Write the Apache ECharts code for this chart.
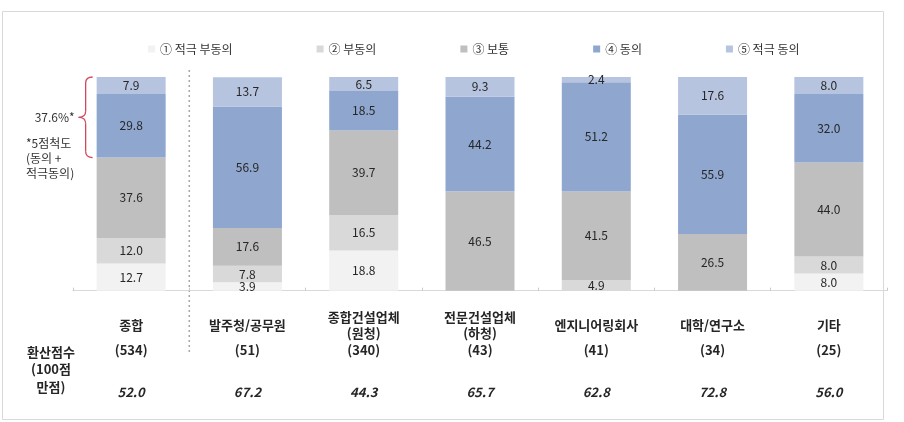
<!DOCTYPE html>
<html>
<head>
<meta charset="utf-8">
<script src="https://cdn.jsdelivr.net/npm/echarts@6/dist/echarts.min.js"></script>
<style>html,body{margin:0;padding:0;background:#fff}#c{width:904px;height:422px}</style>
</head>
<body>
<div id="c"></div>
<script>
const categories = ['종합', '발주청/공무원', '종합건설업체\n(원청)', '전문건설업체\n(하청)', '엔지니어링회사', '대학/연구소', '기타'];
const counts = ['(534)', '(51)', '(340)', '(43)', '(41)', '(34)', '(25)'];
const scores = ['52.0', '67.2', '44.3', '65.7', '62.8', '72.8', '56.0'];
const seriesNames = ['① 적극 부동의', '② 부동의', '③ 보통', '④ 동의', '⑤ 적극 동의'];
const s1 = [12.7, 3.9, 18.8, 0, 0, 0, 8.0];
const s2 = [12.0, 7.8, 16.5, 0, 4.9, 0, 8.0];
const s3 = [37.6, 17.6, 39.7, 46.5, 41.5, 26.5, 44.0];
const s4 = [29.8, 56.9, 18.5, 44.2, 51.2, 55.9, 32.0];
const s5 = [7.9, 13.7, 6.5, 9.3, 2.4, 17.6, 8.0];
const agreeNote = '37.6%*';
const scaleNote = '*5점척도\n(동의 +\n적극동의)';
const scoreTitle = '환산점수\n(100점\n만점)';

const colors = ['#f2f2f2', '#d9d9d9', '#bfbfbf', '#8fa6cf', '#b7c4df'];
const FONT = '"Noto Sans CJK KR", "Noto Sans", sans-serif';
const BAR_W = 69;

const chart = echarts.init(document.getElementById('c'));
const allData = [s1, s2, s3, s4, s5];

const series = allData.map((d, i) => ({
  name: seriesNames[i],
  type: 'bar',
  stack: 'total',
  barWidth: BAR_W,
  data: d,
  itemStyle: { color: colors[i] },
  label: {
    show: true,
    position: 'inside',
    fontFamily: FONT,
    fontSize: 12,
    color: '#262626',
    formatter: p => (p.value ? p.value.toFixed(1) : '')
  },
  emphasis: { disabled: true }
}));

const baseX = {
  type: 'category',
  data: categories,
  gridIndex: 0,
  axisLine: { show: false },
  axisTick: { show: false },
  splitLine: { show: false }
};

chart.setOption({
  animation: false,
  textStyle: { fontFamily: FONT },
  legend: {
    data: seriesNames,
    left: 143,
    top: 38,
    itemWidth: 7,
    itemHeight: 7,
    itemGap: 84,
    icon: 'rect',
    textStyle: { fontFamily: FONT, fontSize: 12, color: '#333' }
  },
  grid: { left: 73, right: 17, top: 77, bottom: 131.3 },
  xAxis: [
    Object.assign({}, baseX, {
      axisLine: { show: true, lineStyle: { color: '#d9d9d9', width: 1 } },
      axisTick: { show: true, inside: true, length: 3, lineStyle: { color: '#c8c8c8' } },
      axisLabel: {
        margin: 34, verticalAlign: 'middle', lineHeight: 16, interval: 0,
        fontFamily: FONT, fontSize: 13, fontWeight: 'bold', color: '#262626'
      }
    }),
    Object.assign({}, baseX, {
      position: 'bottom',
      axisLabel: {
        margin: 59, verticalAlign: 'middle', interval: 0,
        fontFamily: FONT, fontSize: 13, fontWeight: 'bold', color: '#262626',
        formatter: (v, i) => counts[i]
      }
    }),
    Object.assign({}, baseX, {
      position: 'bottom',
      axisLabel: {
        margin: 101, verticalAlign: 'middle', interval: 0,
        fontFamily: FONT, fontSize: 13, fontWeight: 'bold', fontStyle: 'italic', color: '#262626',
        formatter: (v, i) => scores[i]
      }
    })
  ],
  yAxis: { type: 'value', min: 0, max: 100, show: false },
  series: series
});

// annotations positioned through the chart's own scales
const cx0 = chart.convertToPixel({ xAxisIndex: 0 }, 0);
const cx1 = chart.convertToPixel({ xAxisIndex: 0 }, 1);
const sepX = (cx0 + cx1) / 2;
const yTop = chart.convertToPixel({ yAxisIndex: 0 }, 100);
const yBot = chart.convertToPixel({ yAxisIndex: 0 }, s1[0] + s2[0] + s3[0]);
const yMid = (yTop + yBot) / 2;
const bx = cx0 - BAR_W / 2 - 11;
const tip = bx - 7;
const r = 6;
const braceStyle = { fill: 'none', stroke: '#d0485c', lineWidth: 1.3 };

const braceParts = [
  { type: 'bezierCurve', shape: { x1: bx + 7, y1: yTop, cpx1: bx, cpy1: yTop, x2: bx, y2: yTop + r } },
  { type: 'line', shape: { x1: bx, y1: yTop + r, x2: bx, y2: yMid - r } },
  { type: 'bezierCurve', shape: { x1: bx, y1: yMid - r, cpx1: bx, cpy1: yMid, x2: tip, y2: yMid } },
  { type: 'bezierCurve', shape: { x1: tip, y1: yMid, cpx1: bx, cpy1: yMid, x2: bx, y2: yMid + r } },
  { type: 'line', shape: { x1: bx, y1: yMid + r, x2: bx, y2: yBot - r } },
  { type: 'bezierCurve', shape: { x1: bx, y1: yBot - r, cpx1: bx, cpy1: yBot, x2: bx + 7, y2: yBot } }
].map(p => Object.assign(p, { style: braceStyle, silent: true }));

chart.setOption({
  graphic: [
    { type: 'rect', shape: { x: 2.5, y: 11.5, width: 881, height: 408 }, style: { fill: 'none', stroke: '#d9d9d9', lineWidth: 1 }, silent: true },
    { type: 'line', shape: { x1: sepX, y1: 70, x2: sepX, y2: 355 }, style: { stroke: '#a6a6a6', lineWidth: 1.5, lineDash: [2, 3] }, silent: true },
    ...braceParts,
    { type: 'text', x: tip - 4, y: yMid, style: { text: agreeNote, font: '12px ' + FONT, fill: '#333', align: 'right', verticalAlign: 'middle' }, silent: true },
    { type: 'text', x: 26, y: 136, style: { text: scaleNote, font: '12px ' + FONT, fill: '#333', align: 'left', verticalAlign: 'top', lineHeight: 15 }, silent: true },
    { type: 'text', x: 51, y: 343, style: { text: scoreTitle, font: 'bold 13px ' + FONT, fill: '#262626', align: 'center', verticalAlign: 'top', lineHeight: 17.5 }, silent: true }
  ]
});
</script>
</body>
</html>
